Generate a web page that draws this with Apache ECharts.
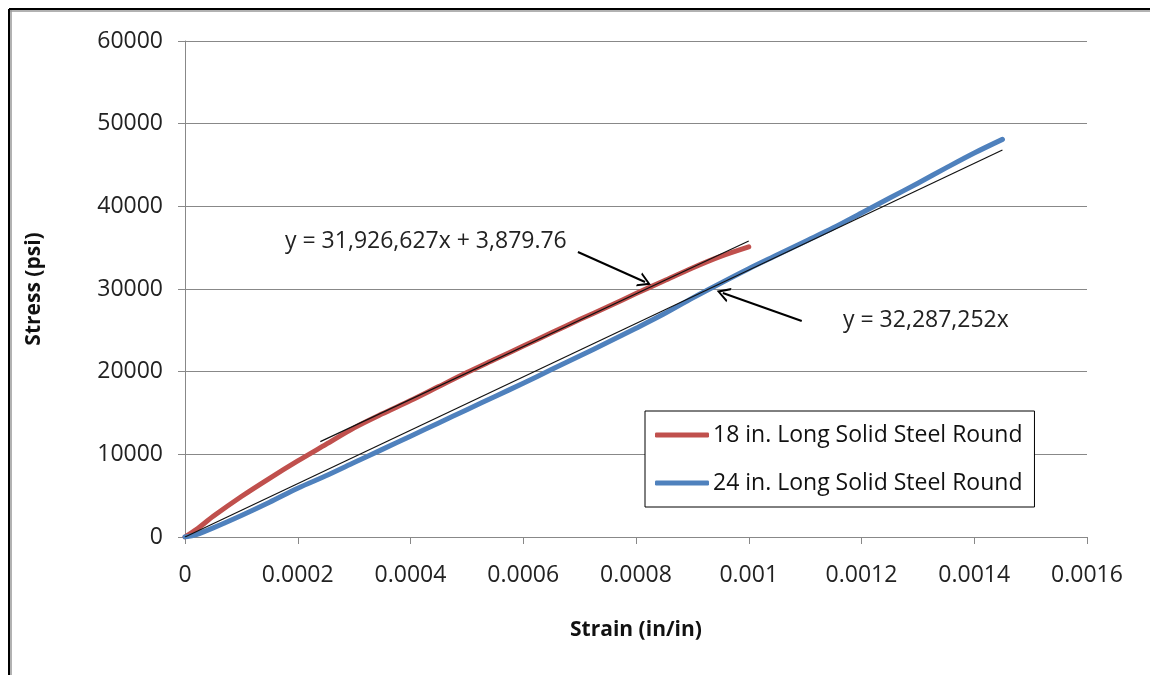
<!DOCTYPE html>
<html>
<head>
<meta charset="utf-8">
<script src="https://cdn.jsdelivr.net/npm/echarts@6/dist/echarts.min.js"></script>
<style>
html,body{margin:0;padding:0;background:#fff;}
#chart{width:1150px;height:675px;}
</style>
</head>
<body>
<div id="chart"></div>
<script>
// ---- data (strain in/in, stress psi) ----
const seriesNames = ['18 in. Long Solid Steel Round', '24 in. Long Solid Steel Round'];
const strain18 = [0, 0.00002, 0.00005, 0.0001, 0.00015, 0.0002, 0.00025, 0.0003, 0.00035, 0.0004, 0.00045, 0.0005, 0.00055, 0.0006, 0.00065, 0.0007, 0.00075, 0.0008, 0.00085, 0.0009, 0.00095, 0.001];
const stress18 = [0, 900, 2500, 4900, 7100, 9200, 11200, 13200, 14900, 16500, 18200, 19900, 21500, 23100, 24700, 26300, 27850, 29450, 31000, 32550, 33950, 35100];
const strain24 = [0, 0.00002, 0.00005, 0.0001, 0.00015, 0.0002, 0.00025, 0.0003, 0.00035, 0.0004, 0.00045, 0.0005, 0.00055, 0.0006, 0.00065, 0.0007, 0.00075, 0.0008, 0.00085, 0.0009, 0.00095, 0.001, 0.00105, 0.0011, 0.00115, 0.0012, 0.00125, 0.0013, 0.00135, 0.0014, 0.00145];
const stress24 = [0, 300, 1100, 2600, 4200, 5900, 7400, 9000, 10600, 12200, 13800, 15400, 17000, 18600, 20250, 21900, 23550, 25250, 27000, 28900, 30700, 32450, 34100, 35750, 37400, 39200, 41000, 42800, 44650, 46450, 48100];
// trendline endpoints
const trend18X = [0.00024, 0.001];
const trend18Y = [11542, 35806];
const trend24X = [0, 0.00145];
const trend24Y = [0, 46816];
// annotations
const eq18 = 'y = 31,926,627x + 3,879.76';
const eq24 = 'y = 32,287,252x';
const arrow18 = [[0.000697, 34476], [0.000816, 30847]];
const arrow24 = [[0.001094, 26129], [0.000954, 29516]];
const yTicks = [0, 10000, 20000, 30000, 40000, 50000, 60000];
const xTicks = [0, 0.0002, 0.0004, 0.0006, 0.0008, 0.001, 0.0012, 0.0014, 0.0016];

const zip = (a, b) => a.map((v, i) => [v, b[i]]);
const FONT = 'Open Sans';
const chevron = 'path://M0,12 L6,0 L12,12 L10.2,12 L6,3.6 L1.8,12 Z';

const chart = echarts.init(document.getElementById('chart'), null, {renderer: 'canvas'});
const option = {
  animation: false,
  backgroundColor: '#fff',
  textStyle: {fontFamily: FONT},
  grid: {left: 185, right: 63, top: 41, bottom: 138, containLabel: false},
  xAxis: {
    type: 'value', min: xTicks[0], max: xTicks[xTicks.length - 1], interval: 0.0002,
    name: 'Strain (in/in)', nameLocation: 'middle', nameGap: 83,
    nameTextStyle: {fontFamily: FONT, fontWeight: 'bold', fontSize: 21, color: '#111'},
    axisLine: {show: true, lineStyle: {color: '#888', width: 1}},
    axisTick: {show: true, length: 7, lineStyle: {color: '#888'}},
    axisLabel: {fontFamily: FONT, fontSize: 23, color: '#222', margin: 27,
      formatter: v => String(Number(v.toFixed(4)))},
    splitLine: {show: false}
  },
  yAxis: {
    type: 'value', min: yTicks[0], max: yTicks[yTicks.length - 1], interval: 10000,
    name: 'Stress (psi)', nameLocation: 'middle', nameGap: 140, nameRotate: 90,
    nameTextStyle: {fontFamily: FONT, fontWeight: 'bold', fontSize: 21, color: '#111'},
    axisLine: {show: true, lineStyle: {color: '#888', width: 1}},
    axisTick: {show: true, inside: false, length: 7, lineStyle: {color: '#888'}},
    axisLabel: {fontFamily: FONT, fontSize: 23, color: '#222', margin: 22,
      formatter: v => String(v)},
    splitLine: {show: true, lineStyle: {color: '#888', width: 1}}
  },
  legend: {
    orient: 'vertical', left: 645, top: 411,
    data: seriesNames.map(n => ({name: n, icon: 'roundRect'})),
    backgroundColor: '#fff', borderColor: '#000', borderWidth: 1,
    padding: [9, 12, 9, 10], itemGap: 18, itemWidth: 54, itemHeight: 5,
    textStyle: {fontFamily: FONT, fontSize: 23, lineHeight: 30, color: '#111', padding: [0, 0, 0, -1]}
  },
  series: [
    {
      name: seriesNames[0], type: 'line', data: zip(strain18, stress18),
      showSymbol: false, symbol: 'none', smooth: 0.3,
      lineStyle: {color: '#C0504D', width: 5, cap: 'round', join: 'round'},
      itemStyle: {color: '#C0504D'}, z: 2
    },
    {
      name: seriesNames[1], type: 'line', data: zip(strain24, stress24),
      showSymbol: false, symbol: 'none', smooth: 0.3,
      lineStyle: {color: '#4F81BD', width: 5, cap: 'round', join: 'round'},
      itemStyle: {color: '#4F81BD'}, z: 2
    },
    {
      name: 'trend18', type: 'line', data: zip(trend18X, trend18Y),
      showSymbol: false, symbol: 'none', silent: true,
      lineStyle: {color: '#111', width: 1.2}, z: 3
    },
    {
      name: 'trend24', type: 'line', data: zip(trend24X, trend24Y),
      showSymbol: false, symbol: 'none', silent: true,
      lineStyle: {color: '#111', width: 1.2}, z: 3,
      markLine: {
        silent: true, animation: false,
        symbol: ['none', chevron], symbolSize: [15, 13], symbolOffset: [0, 0],
        label: {show: false},
        lineStyle: {color: '#000', width: 2, type: 'solid'},
        data: [
          [{coord: arrow18[0]}, {coord: arrow18[1]}],
          [{coord: arrow24[0]}, {coord: arrow24[1]}]
        ]
      }
    }
  ],
  graphic: [
    {type: 'text', left: 285, top: 230, style: {text: eq18, fontFamily: FONT, fontSize: 23, fill: '#222'}},
    {type: 'text', left: 843, top: 309, style: {text: eq24, fontFamily: FONT, fontSize: 23, fill: '#222'}},
    {type: 'line', shape: {x1: 9, y1: 9, x2: 1150, y2: 9}, style: {stroke: '#000', lineWidth: 2}},
    {type: 'line', shape: {x1: 9, y1: 11, x2: 1150, y2: 11}, style: {stroke: '#999', lineWidth: 1.5}},
    {type: 'line', shape: {x1: 9, y1: 9, x2: 9, y2: 675}, style: {stroke: '#000', lineWidth: 2}},
    {type: 'line', shape: {x1: 11, y1: 10, x2: 11, y2: 675}, style: {stroke: '#999', lineWidth: 1.5}}
  ]
};
chart.setOption(option);
</script>
</body>
</html>
